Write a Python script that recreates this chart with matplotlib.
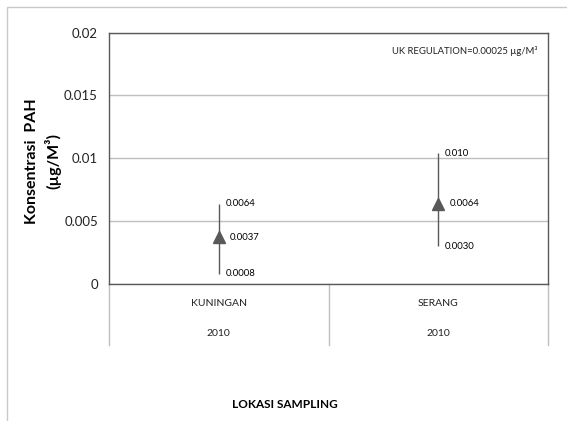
import matplotlib
matplotlib.use("Agg")
import matplotlib.pyplot as plt
import matplotlib.transforms as mtransforms
from matplotlib.patches import Rectangle

plt.rcParams['font.family'] = ['Lato', 'DejaVu Sans']

# Data
locations = ['KUNINGAN', 'SERANG']
years = ['2010', '2010']
high = [0.0064, 0.0104]
mid = [0.0037, 0.0064]
low = [0.0008, 0.0030]
high_labels = ['0.0064', '0.010']
mid_labels = ['0.0037', '0.0064']
low_labels = ['0.0008', '0.0030']
y_ticks = [0, 0.005, 0.01, 0.015, 0.02]
y_tick_labels = ['0', '0.005', '0.01', '0.015', '0.02']

dark = '#595959'
grid = '#bfbfbf'

fig = plt.figure(figsize=(5.67, 4.21), dpi=100)
ax = fig.add_axes([109 / 567, 1 - 284 / 421, 439 / 567, 251.5 / 421])

# outer chart-area frame (only top and left visible)
fig.patches.append(Rectangle((7 / 567, -0.1), 1.2, 1 - 7 / 421 + 0.1,
                             transform=fig.transFigure, fill=False,
                             edgecolor='#c8c8c8', lw=1.0))

x = [0.5, 1.5]
ax.set_xlim(0, 2)
ax.set_ylim(0, 0.02)
ax.set_yticks(y_ticks)
ax.set_yticklabels(y_tick_labels, fontsize=9.5, color='#222222')
ax.tick_params(axis='y', length=0, pad=8)
ax.set_xticks([])
for s in ax.spines.values():
    s.set_color(dark)
    s.set_linewidth(1.0)
ax.yaxis.grid(True, color=grid, lw=1.0)
ax.set_axisbelow(True)

# high-low lines and markers
ax.vlines(x, low, high, color=dark, lw=1.0)
ax.plot(x, mid, linestyle='none', marker='^', markersize=8.5,
        color=dark, markeredgecolor=dark)

for i in range(len(x)):
    ax.annotate(high_labels[i], (x[i], high[i]), xytext=(5, 0),
                textcoords='offset points', fontsize=6.8, va='center')
    ax.annotate(mid_labels[i], (x[i], mid[i]), xytext=(8, 0),
                textcoords='offset points', fontsize=6.8, va='center')
    ax.annotate(low_labels[i], (x[i], low[i]), xytext=(5, 0),
                textcoords='offset points', fontsize=6.8, va='center')

# category axis with separators
trans = mtransforms.blended_transform_factory(ax.transData, ax.transAxes)
for xs in [0, 1, 2]:
    ax.plot([xs, xs], [0, -61 / 251.5], transform=trans, color=grid,
            lw=1.0, clip_on=False)
for i in range(len(x)):
    ax.text(x[i], -19 / 251.5, locations[i], transform=trans, ha='center',
            va='center', fontsize=7.5, color='#222222')
    ax.text(x[i], -49 / 251.5, years[i], transform=trans, ha='center',
            va='center', fontsize=7.5, color='#222222')

ax.text(0.975, 0.925, 'UK REGULATION=0.00025 µg/M³', transform=ax.transAxes,
        ha='right', va='center', fontsize=6.8, color='#222222')

fig.text(32 / 567, 1 - 161 / 421, 'Konsentrasi  PAH', rotation=90,
         ha='center', va='center', fontsize=11.5, fontweight='bold')
fig.text(53 / 567, 1 - 161 / 421, '(µg/M³)', rotation=90,
         ha='center', va='center', fontsize=11.5, fontweight='bold')

fig.text(285 / 567, 1 - 405 / 421, 'LOKASI SAMPLING', ha='center',
         va='center', fontsize=8.5, fontweight='bold')

fig.savefig('out.png', dpi=100)
